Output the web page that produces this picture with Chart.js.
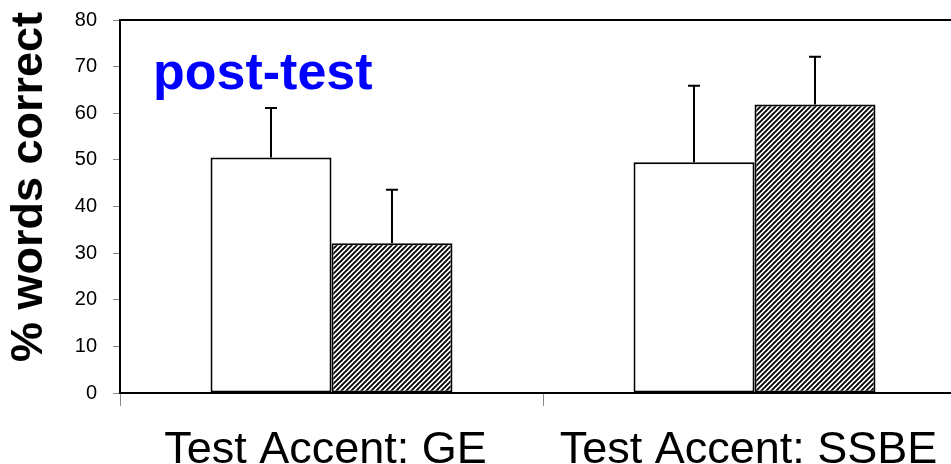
<!DOCTYPE html>
<html>
<head>
<meta charset="utf-8">
<script src="https://cdn.jsdelivr.net/npm/chart.js@4/dist/chart.umd.min.js"></script>
<style>
  html, body { margin: 0; padding: 0; background: #fff; overflow: hidden; }
  #wrap { width: 951px; height: 464px; overflow: hidden; position: relative; }
  canvas { display: block; margin-top: -8px; }
</style>
</head>
<body>
<div id="wrap"><canvas id="c" width="980" height="472"></canvas></div>
<script>
// Data
const categories = ['Test Accent: GE', 'Test Accent: SSBE'];
const seriesNames = ['Group 1', 'Group 2'];
const plainValues = [50.5, 49.5];
const hatchedValues = [32.1, 61.9];
const plainErrors = [10.6, 16.4];
const hatchedErrors = [11.5, 10.2];
const yTicks = [0, 10, 20, 30, 40, 50, 60, 70, 80];
const panelLabel = 'post-test';
const yTitle = '% words correct';

const FONT = '"Liberation Sans", Arial, Helvetica, sans-serif';

// Diagonal hatch fill for the second series
const ctx0 = document.getElementById('c').getContext('2d');
const hatch = (function () {
  const s = 5;
  const t = document.createElement('canvas');
  t.width = s; t.height = s;
  const g = t.getContext('2d');
  g.fillStyle = '#fff';
  g.fillRect(0, 0, s, s);
  g.strokeStyle = '#000';
  g.lineWidth = 1.9;
  g.beginPath();
  g.moveTo(0, s); g.lineTo(s, 0);
  g.moveTo(-1, 1); g.lineTo(1, -1);
  g.moveTo(s - 1, s + 1); g.lineTo(s + 1, s - 1);
  g.stroke();
  return ctx0.createPattern(t, 'repeat');
})();

const errorSets = [plainErrors, hatchedErrors];

// Upward-only error bars with a short cap
const errorBars = {
  id: 'errorBars',
  afterDatasetsDraw(chart) {
    const ctx = chart.ctx;
    const y = chart.scales.y;
    ctx.save();
    ctx.strokeStyle = '#000';
    ctx.lineWidth = 2;
    chart.data.datasets.forEach((ds, i) => {
      const meta = chart.getDatasetMeta(i);
      meta.data.forEach((el, j) => {
        const v = ds.data[j];
        const e = errorSets[i][j];
        const y0 = y.getPixelForValue(v);
        const y1 = y.getPixelForValue(v + e);
        ctx.beginPath();
        ctx.moveTo(el.x, y0);
        ctx.lineTo(el.x, y1);
        ctx.moveTo(el.x - 6, y1);
        ctx.lineTo(el.x + 6, y1);
        ctx.stroke();
      });
    });
    ctx.restore();
  }
};

// Top frame line, panel label and rotated axis title
const decorations = {
  id: 'decorations',
  afterDraw(chart) {
    const ctx = chart.ctx;
    const a = chart.chartArea;
    ctx.save();
    ctx.strokeStyle = '#000';
    ctx.lineWidth = 2;
    ctx.beginPath();
    ctx.moveTo(a.left - 1, a.top);
    ctx.lineTo(a.right, a.top);
    ctx.lineTo(a.right, a.bottom);
    ctx.stroke();

    ctx.fillStyle = '#0000ff';
    ctx.font = 'bold 52px ' + FONT;
    ctx.textAlign = 'left';
    ctx.textBaseline = 'alphabetic';
    ctx.fillText(panelLabel, a.left + 33, a.top + 69);

    ctx.fillStyle = '#000';
    ctx.font = 'bold 45px ' + FONT;
    ctx.translate(30, a.top + 167);
    ctx.rotate(-Math.PI / 2);
    ctx.textAlign = 'center';
    ctx.textBaseline = 'middle';
    ctx.fillText(yTitle, 0, 0);
    ctx.restore();
  }
};

new Chart(document.getElementById('c'), {
  type: 'bar',
  data: {
    labels: categories,
    datasets: [
      {
        label: seriesNames[0],
        data: plainValues,
        backgroundColor: '#fff',
        borderColor: '#000',
        borderWidth: 2,
        borderSkipped: false
      },
      {
        label: seriesNames[1],
        data: hatchedValues,
        backgroundColor: hatch,
        borderColor: '#000',
        borderWidth: 2,
        borderSkipped: false
      }
    ]
  },
  options: {
    responsive: false,
    animation: false,
    devicePixelRatio: 1,
    layout: { padding: { top: 12, right: 14, left: 0, bottom: 0 } },
    plugins: {
      legend: { display: false },
      tooltip: { enabled: false }
    },
    datasets: {
      bar: { categoryPercentage: 0.572, barPercentage: 1.0 }
    },
    scales: {
      x: {
        afterFit(s) { s.height = 71; },
        grid: {
          display: true,
          offset: true,
          drawOnChartArea: false,
          drawTicks: true,
          tickLength: 13,
          color: '#888',
          lineWidth: 1
        },
        border: { display: true, color: '#000', width: 2 },
        ticks: {
          color: '#000',
          font: { family: FONT, size: 45 },
          padding: 18,
          labelOffset: -6,
          maxRotation: 0,
          autoSkip: false
        }
      },
      y: {
        min: 0,
        max: 80,
        afterFit(s) { s.width = 120; },
        afterBuildTicks(s) { s.ticks = yTicks.map(v => ({ value: v })); },
        grid: {
          display: true,
          drawOnChartArea: false,
          drawTicks: true,
          tickLength: 7,
          color: '#888',
          lineWidth: 1
        },
        border: { display: true, color: '#000', width: 2 },
        ticks: {
          color: '#000',
          font: { family: FONT, size: 20 },
          padding: 16
        }
      }
    }
  },
  plugins: [errorBars, decorations]
});
</script>
</body>
</html>
